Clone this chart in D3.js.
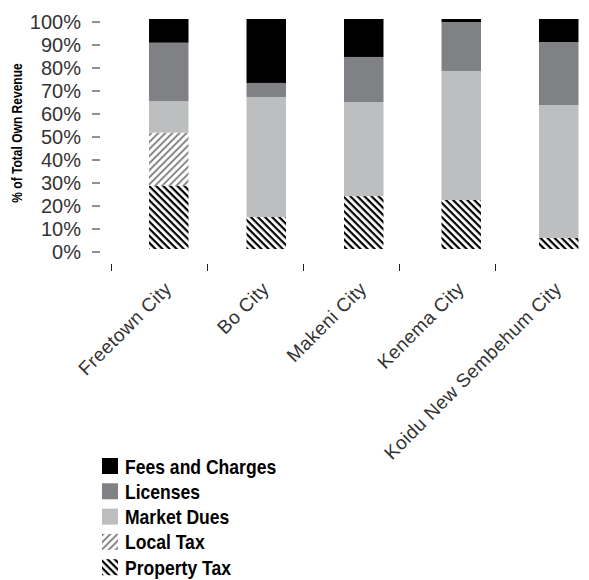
<!DOCTYPE html>
<html>
<head>
<meta charset="utf-8">
<script src="https://cdn.jsdelivr.net/npm/d3@7"></script>
<style>
  body { margin: 0; background: #fff; }
  .tick-label { font-family: "Liberation Sans", Arial, sans-serif; fill: #333; }
  .cond { font-family: "Liberation Sans Narrow", "Arial Narrow", "Liberation Sans", sans-serif; font-weight: bold; }
</style>
</head>
<body>
<script>
// categories and series (percent of total own revenue)
var cities = ["Freetown City", "Bo City", "Makeni City", "Kenema City", "Koidu New Sembehum City"];
var propertyTax = [27.4, 13.9, 23.0, 21.3, 4.8];
var localTax    = [23.2, 0, 0, 0, 0];
var marketDues  = [13.7, 52.2, 40.9, 56.1, 57.8];
var licenses    = [25.4, 6.1, 19.6, 21.3, 27.4];
var feesCharges = [10.3, 27.8, 16.5, 1.3, 10.0];
var yTicks = [0, 10, 20, 30, 40, 50, 60, 70, 80, 90, 100];

var seriesNames = ["Property Tax", "Local Tax", "Market Dues", "Licenses", "Fees and Charges"];
var seriesValues = [propertyTax, localTax, marketDues, licenses, feesCharges];
var fills = ["url(#hatchProperty)", "url(#hatchLocal)", "#bdbec0", "#808184", "#000"];

var width = 589, height = 580;

var svg = d3.select("body")
    .append("svg")
    .attr("width", width)
    .attr("height", height);

// hatch patterns
var defs = svg.append("defs");
var pp = defs.append("pattern")
    .attr("id", "hatchProperty")
    .attr("patternUnits", "userSpaceOnUse")
    .attr("width", 5).attr("height", 5)
    .attr("patternTransform", "rotate(45)");
pp.append("rect").attr("width", 5).attr("height", 5).attr("fill", "#fff");
pp.append("rect").attr("width", 5).attr("height", 2.2).attr("fill", "#000");

var pl = defs.append("pattern")
    .attr("id", "hatchLocal")
    .attr("patternUnits", "userSpaceOnUse")
    .attr("width", 5).attr("height", 5)
    .attr("patternTransform", "rotate(-45)");
pl.append("rect").attr("width", 5).attr("height", 5).attr("fill", "#fff");
pl.append("rect").attr("width", 5).attr("height", 2).attr("fill", "#8a8a8a");

// scales
var y = d3.scaleLinear().domain([0, 100]).range([249, 19]);
var x = d3.scaleBand().domain(cities).range([91, 636.5]).paddingInner(0.595).paddingOuter(0.595);
var xTick = d3.scalePoint().domain(cities).range([111, 495]);

// stack the series
var table = cities.map(function (c, i) {
    var row = { city: c };
    seriesNames.forEach(function (s, j) { row[s] = seriesValues[j][i]; });
    return row;
});
var stacked = d3.stack().keys(seriesNames)(table);

svg.append("g")
    .selectAll("g")
    .data(stacked)
    .join("g")
    .attr("fill", function (d, i) { return fills[i]; })
    .selectAll("rect")
    .data(function (d) { return d; })
    .join("rect")
    .attr("x", function (d) { return x(d.data.city); })
    .attr("y", function (d) { return y(d[1]); })
    .attr("width", x.bandwidth())
    .attr("height", function (d) { return y(d[0]) - y(d[1]); });

// y axis (ticks only, no domain line)
var yAxis = svg.append("g")
    .attr("transform", "translate(100,2.5)")
    .call(d3.axisLeft(y).tickValues(yTicks).tickSize(8).tickPadding(11)
        .tickFormat(function (d) { return d + "%"; }));
yAxis.select(".domain").remove();
yAxis.selectAll(".tick line").attr("stroke", "#222");
yAxis.selectAll(".tick text")
    .attr("class", "tick-label")
    .attr("font-family", null).attr("fill", null)
    .attr("font-size", 20)
    .attr("dy", "0.36em");

svg.append("g")
    .attr("transform", "translate(22,133) rotate(-90) scale(0.86,1)")
    .append("text")
    .attr("class", "cond")
    .attr("text-anchor", "middle")
    .attr("font-size", 14)
    .text("% of Total Own Revenue");

// x axis ticks
var xAxis = svg.append("g")
    .attr("transform", "translate(0,264)")
    .call(d3.axisBottom(xTick).tickSize(7).tickFormat(""));
xAxis.select(".domain").remove();
xAxis.selectAll(".tick line").attr("stroke", "#222");

// rotated city labels
svg.append("g")
    .selectAll("text")
    .data(cities)
    .join("text")
    .attr("class", "tick-label")
    .attr("text-anchor", "end")
    .attr("font-size", 19)
    .attr("letter-spacing", 0.4)
    .attr("transform", function (d) {
        return "translate(" + (x(d) + x.bandwidth() / 2 + 4) + ",290) rotate(-45)";
    })
    .text(function (d) { return d; });

// legend
var legendItems = ["Fees and Charges", "Licenses", "Market Dues", "Local Tax", "Property Tax"];
var legend = svg.append("g")
    .selectAll("g")
    .data(legendItems)
    .join("g")
    .attr("transform", function (d, i) { return "translate(102," + (458 + i * 25.3) + ")"; });
legend.append("rect")
    .attr("width", 16).attr("height", 16)
    .attr("fill", function (d) { return fills[seriesNames.indexOf(d)]; });
legend.append("g")
    .attr("transform", "translate(23,15.5) scale(0.9,1)")
    .append("text")
    .attr("class", "cond")
    .attr("font-size", 19.5)
    .text(function (d) { return d; });
</script>
</body>
</html>
